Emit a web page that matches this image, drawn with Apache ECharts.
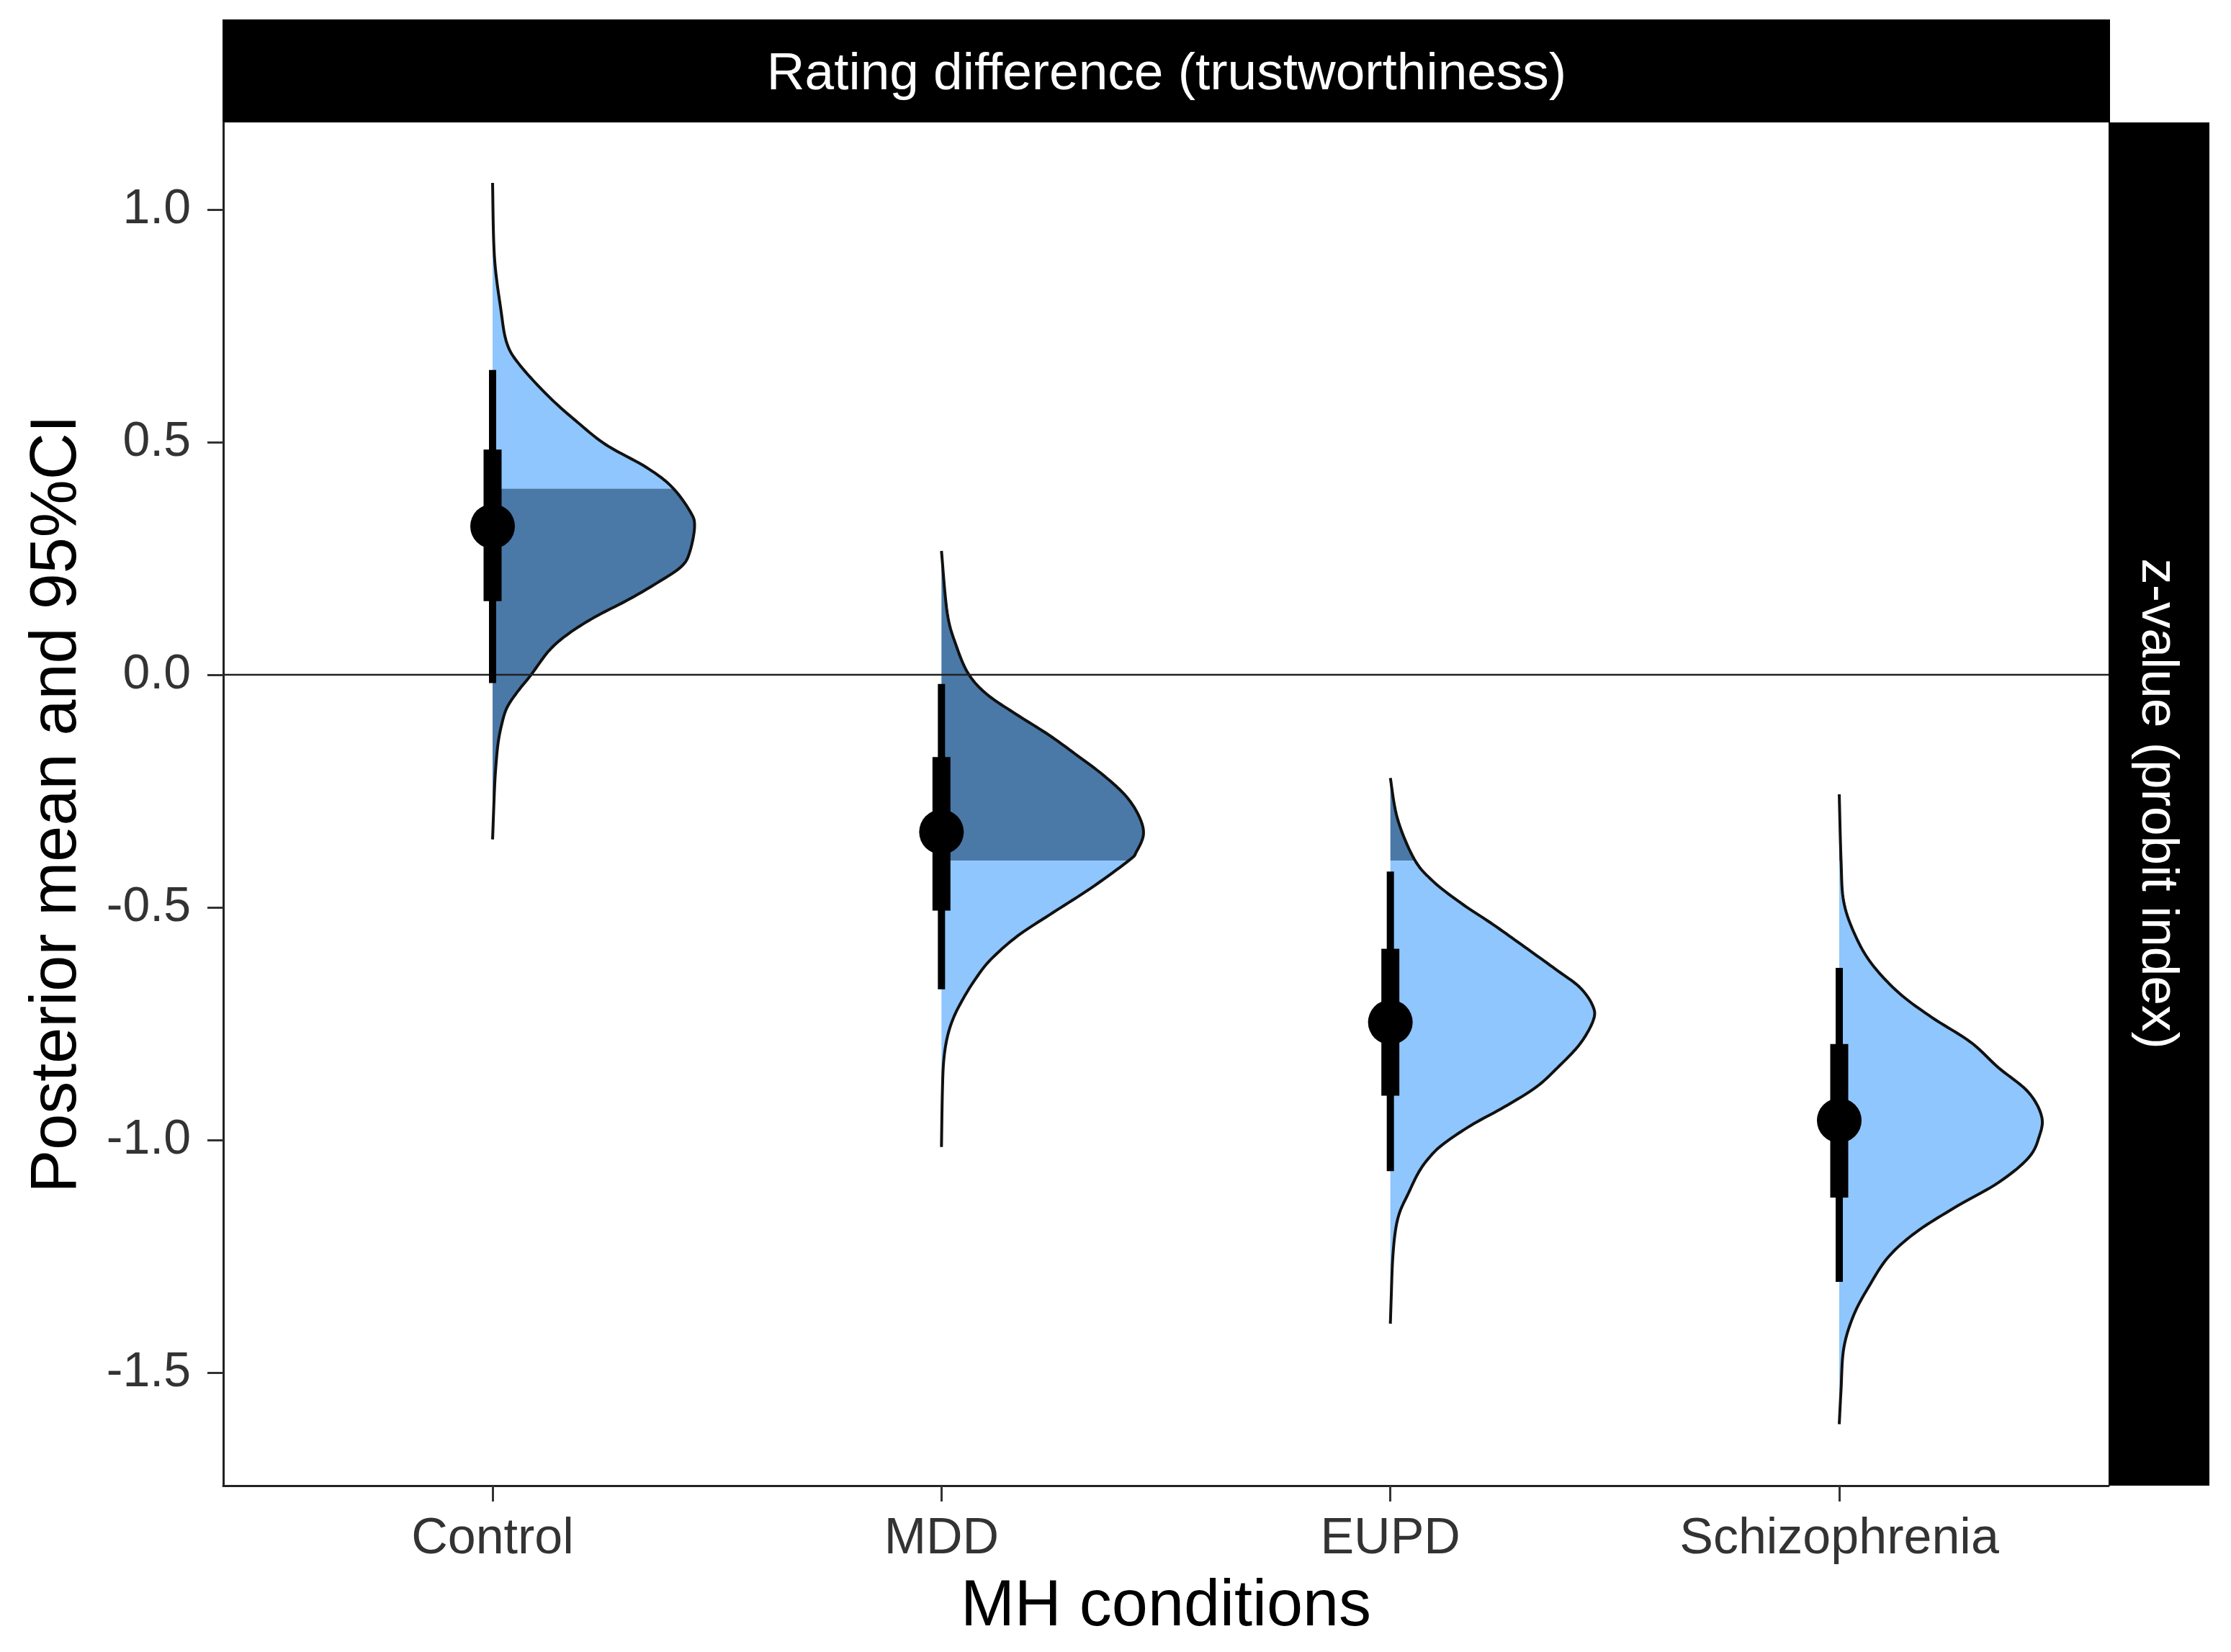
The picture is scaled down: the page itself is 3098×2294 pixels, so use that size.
<!DOCTYPE html>
<html>
<head>
<meta charset="utf-8">
<title>Rating difference (trustworthiness)</title>
<script src="https://cdn.jsdelivr.net/npm/echarts@6/dist/echarts.min.js"></script>
<style>
  html, body { margin: 0; padding: 0; background: #fff; }
  #chart { width: 3098px; height: 2294px; }
</style>
</head>
<body>
<div id="chart"></div>
<script>
  var categories = ['Control', 'MDD', 'EUPD', 'Schizophrenia'];
  var yTicks = [-1.5, -1.0, -0.5, 0.0, 0.5, 1.0];
  var xTicks = [1, 2, 3, 4];

  // ROPE limits: slab is dark inside, light outside
  var ropeLow = -0.4;
  var ropeHigh = 0.4;

  // slab outlines: [value, density height in category units], top to bottom
  var controlSlab = [
    [1.057, 0], [0.900, 0.004], [0.788, 0.018], [0.712, 0.032], [0.664, 0.062],
    [0.597, 0.126], [0.542, 0.190], [0.494, 0.253], [0.446, 0.342], [0.404, 0.399],
    [0.351, 0.440], [0.319, 0.450], [0.263, 0.439], [0.232, 0.420], [0.197, 0.366],
    [0.161, 0.302], [0.124, 0.228], [0.088, 0.169], [0.052, 0.126], [0.000, 0.086],
    [-0.036, 0.056], [-0.071, 0.032], [-0.108, 0.020], [-0.149, 0.012], [-0.201, 0.007],
    [-0.252, 0.004], [-0.354, 0]
  ];
  var mddSlab = [
    [0.266, 0], [0.132, 0.013], [0.062, 0.033], [0.002, 0.060], [-0.042, 0.101],
    [-0.086, 0.168], [-0.130, 0.240], [-0.174, 0.303], [-0.217, 0.362], [-0.261, 0.411],
    [-0.304, 0.440], [-0.343, 0.450], [-0.381, 0.434], [-0.399, 0.418], [-0.458, 0.334],
    [-0.511, 0.249], [-0.562, 0.169], [-0.613, 0.109], [-0.655, 0.075], [-0.697, 0.048],
    [-0.737, 0.027], [-0.779, 0.013], [-0.830, 0.005], [-0.898, 0.002], [-1.015, 0]
  ];
  var eupdSlab = [
    [-0.222, 0], [-0.310, 0.016], [-0.396, 0.053], [-0.443, 0.094], [-0.490, 0.156],
    [-0.537, 0.229], [-0.585, 0.299], [-0.633, 0.368], [-0.672, 0.422], [-0.712, 0.451],
    [-0.743, 0.452], [-0.794, 0.422], [-0.845, 0.372], [-0.887, 0.324], [-0.929, 0.254],
    [-0.969, 0.179], [-1.011, 0.115], [-1.042, 0.083], [-1.073, 0.061], [-1.115, 0.040],
    [-1.155, 0.021], [-1.197, 0.011], [-1.259, 0.005], [-1.336, 0.002], [-1.395, 0]
  ];
  var schizSlab = [
    [-0.257, 0], [-0.399, 0.004], [-0.488, 0.010], [-0.559, 0.035], [-0.621, 0.072],
    [-0.684, 0.133], [-0.737, 0.207], [-0.790, 0.293], [-0.844, 0.354], [-0.897, 0.421],
    [-0.950, 0.451], [-0.994, 0.445], [-1.039, 0.421], [-1.092, 0.354], [-1.146, 0.256],
    [-1.199, 0.170], [-1.252, 0.109], [-1.315, 0.066], [-1.377, 0.032], [-1.448, 0.010],
    [-1.537, 0.004], [-1.611, 0]
  ];
  var slabs = [controlSlab, mddSlab, eupdSlab, schizSlab];

  // posterior mean and intervals
  var means = [0.319, -0.338, -0.747, -0.958];
  var inner66Low = [0.158, -0.507, -0.905, -1.124];
  var inner66High = [0.484, -0.177, -0.589, -0.794];
  var outer95Low = [-0.018, -0.676, -1.067, -1.305];
  var outer95High = [0.655, -0.020, -0.423, -0.630];

  var lightFill = '#8fc6fd';
  var darkFill = '#4a79a8';
  var fontFam = '"Liberation Sans", Arial, Helvetica, sans-serif';

  var chart = echarts.init(document.getElementById('chart'));

  // catmull-rom through the read points, just for a smooth outline
  function smoothPath(pts, steps) {
    var out = [];
    for (var i = 0; i < pts.length - 1; i++) {
      var p0 = pts[Math.max(i - 1, 0)];
      var p1 = pts[i];
      var p2 = pts[i + 1];
      var p3 = pts[Math.min(i + 2, pts.length - 1)];
      for (var s = 0; s < steps; s++) {
        var t = s / steps, t2 = t * t, t3 = t2 * t;
        var q = [0, 1].map(function (k) {
          return 0.5 * ((2 * p1[k]) + (-p0[k] + p2[k]) * t +
            (2 * p0[k] - 5 * p1[k] + 4 * p2[k] - p3[k]) * t2 +
            (-p0[k] + 3 * p1[k] - 3 * p2[k] + p3[k]) * t3);
        });
        out.push(q);
      }
    }
    out.push(pts[pts.length - 1]);
    return out;
  }

  function splitBands(curve, cuts) {
    var bands = [[], [], []];
    var bandOf = function (y) {
      return y < cuts[0] ? 0 : (y < cuts[1] ? 1 : 2);
    };
    var prev = curve[0];
    var b = bandOf(prev[1]);
    bands[b].push(prev);
    for (var i = 1; i < curve.length; i++) {
      var cur = curve[i];
      var nb = bandOf(cur[1]);
      while (nb != b) {
        var cut = nb > b ? cuts[b] : cuts[b - 1];
        var t = (cut - prev[1]) / (cur[1] - prev[1]);
        var p = [prev[0] + t * (cur[0] - prev[0]), cut];
        bands[b].push(p);
        b = nb > b ? b + 1 : b - 1;
        bands[b].push(p);
      }
      bands[b].push(cur);
      prev = cur;
    }
    return bands;
  }

  var renderSlab = function (params, api) {
    var idx = api.value(0);
    var x0 = idx + 1;
    var base = api.coord([x0, 0])[0];
    var pts = slabs[idx].map(function (d) {
      return api.coord([x0 + d[1], d[0]]);
    });
    var curve = smoothPath(pts, 10).map(function (p) {
      return [Math.max(p[0], base), p[1]];
    });
    var cuts = [api.coord([x0, ropeHigh])[1], api.coord([x0, ropeLow])[1]];
    var bands = splitBands(curve, cuts);
    var children = [];
    bands.forEach(function (band, k) {
      if (band.length < 2) return;
      var poly = [[base, band[0][1]]].concat(band).concat([[base, band[band.length - 1][1]]]);
      children.push({
        type: 'polygon',
        shape: {points: poly},
        style: {fill: k == 1 ? darkFill : lightFill, stroke: null}
      });
    });
    children.push({
      type: 'polyline',
      shape: {points: curve},
      style: {stroke: '#111', lineWidth: 4, fill: null, lineJoin: 'round'}
    });
    return {type: 'group', children: children};
  };

  var renderInterval = function (params, api) {
    var x0 = api.value(0) + 1;
    var m = api.coord([x0, api.value(1)]);
    var a66 = api.coord([x0, api.value(2)]);
    var b66 = api.coord([x0, api.value(3)]);
    var a95 = api.coord([x0, api.value(4)]);
    var b95 = api.coord([x0, api.value(5)]);
    return {
      type: 'group',
      children: [
        {type: 'line', shape: {x1: a95[0], y1: a95[1], x2: b95[0], y2: b95[1]},
          style: {stroke: '#000', lineWidth: 10}},
        {type: 'line', shape: {x1: a66[0], y1: a66[1], x2: b66[0], y2: b66[1]},
          style: {stroke: '#000', lineWidth: 25}},
        {type: 'circle', shape: {cx: m[0], cy: m[1], r: 31}, style: {fill: '#000'}}
      ]
    };
  };

  var slabData = [];
  var intervalData = [];
  for (var i = 0; i < categories.length; i++) {
    slabData.push([i, means[i]]);
    intervalData.push([i, means[i], inner66Low[i], inner66High[i], outer95Low[i], outer95High[i]]);
  }

  var option = {
    backgroundColor: '#fff',
    animation: false,
    grid: {left: 310, top: 170, right: 170, bottom: 231, containLabel: false},
    xAxis: {
      type: 'value',
      min: 0.4,
      max: 4.6,
      name: 'MH conditions',
      nameLocation: 'middle',
      nameGap: 124,
      nameTextStyle: {fontSize: 90, color: '#000', fontFamily: fontFam},
      axisLine: {show: true, onZero: false, lineStyle: {color: '#222', width: 3}},
      axisTick: {show: true, customValues: xTicks, length: 22, lineStyle: {color: '#333', width: 3}},
      axisLabel: {
        customValues: xTicks,
        fontSize: 70,
        color: '#333',
        fontFamily: fontFam,
        margin: 40,
        formatter: function (v) { return categories[Math.round(v) - 1]; }
      },
      splitLine: {show: false}
    },
    yAxis: {
      type: 'value',
      min: -1.743,
      max: 1.187,
      name: 'Posterior mean and 95%CI',
      nameLocation: 'middle',
      nameGap: 185,
      nameTextStyle: {fontSize: 90, color: '#000', fontFamily: fontFam},
      axisLine: {show: true, onZero: false, lineStyle: {color: '#222', width: 3}},
      axisTick: {show: true, customValues: yTicks, length: 22, lineStyle: {color: '#333', width: 3}},
      axisLabel: {
        customValues: yTicks,
        fontSize: 68,
        color: '#333',
        fontFamily: fontFam,
        margin: 45,
        formatter: function (v) { return v.toFixed(1); }
      },
      splitLine: {show: false}
    },
    graphic: [
      {type: 'rect', left: 309, top: 27, shape: {width: 2621, height: 143}, style: {fill: '#000'}},
      {type: 'text', x: 1620, y: 104,
        style: {text: 'Rating difference (trustworthiness)', fill: '#fff', fontSize: 73, fontFamily: fontFam,
          align: 'center', verticalAlign: 'middle', textAlign: 'center', textVerticalAlign: 'middle'}},
      {type: 'rect', left: 2928, top: 170, shape: {width: 140, height: 1893}, style: {fill: '#000'}},
      {type: 'text', x: 2995, y: 1116, rotation: -Math.PI / 2,
        style: {text: 'z-value (probit index)', fill: '#fff', fontSize: 73, fontFamily: fontFam,
          align: 'center', verticalAlign: 'middle', textAlign: 'center', textVerticalAlign: 'middle'}}
    ],
    series: [
      {
        name: 'slab',
        type: 'custom',
        renderItem: renderSlab,
        data: slabData,
        silent: true,
        z: 1
      },
      {
        name: 'zero',
        type: 'line',
        data: [[0.4, 0], [4.6, 0]],
        symbol: 'none',
        lineStyle: {color: '#222', width: 2.5},
        silent: true,
        z: 2
      },
      {
        name: 'interval',
        type: 'custom',
        renderItem: renderInterval,
        data: intervalData,
        silent: true,
        z: 3
      }
    ]
  };

  chart.setOption(option);
</script>
</body>
</html>
